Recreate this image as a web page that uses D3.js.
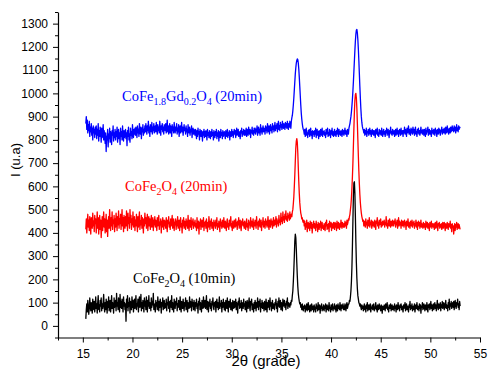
<!DOCTYPE html>
<html>
<head>
<meta charset="utf-8">
<script src="https://cdn.jsdelivr.net/npm/d3@7"></script>
<style>
  html, body { margin: 0; padding: 0; background: #fff; }
  svg { display: block; }
  .tick text { font-family: "Liberation Sans", Arial, sans-serif; font-size: 12px; fill: #000; }
  .lbl { font-family: "Liberation Serif", "Times New Roman", serif; font-size: 14.5px; }
</style>
</head>
<body>
<div id="chart"></div>
<script>
// 2-theta sampling: 15.30 .. 53.00 in 0.05 degree steps (one row of 20 = 1 degree)
const thetaStart = 15.3;
const thetaStep = 0.05;

// CoFe2O4 (10min) - black
const cofe10 = [
  30, 70, 95, 60, 110, 85, 50, 75, 120, 90, 65, 100, 80, 55, 115, 95, 70, 105, 60, 85,
  125, 75, 95, 55, 100, 130, 70, 90, 60, 110, 85, 120, 65, 95, 75, 105, 135, 80, 60, 100,
  70, 115, 90, 55, 105, 80, 125, 65, 95, 110, 60, 85, 130, 75, 100, 90, 55, 120, 80, 95,
  110, 65, 140, 85, 100, 70, 120, 95, 60, 135, 80, 105, 75, 115, 90, 60, 125, 85, 100, 70,
  95, 20, 115, 80, 130, 65, 100, 85, 120, 55, 105, 90, 70, 125, 80, 110, 60, 95, 115, 75,
  100, 130, 70, 95, 85, 115, 60, 105, 125, 80, 90, 135, 65, 100, 75, 110, 95, 60, 120, 85,
  105, 70, 125, 90, 60, 110, 85, 130, 75, 100, 95, 65, 120, 80, 105, 90, 140, 70, 95, 85,
  60, 110, 85, 100, 70, 125, 90, 65, 105, 80, 115, 95, 55, 100, 85, 120, 70, 90, 110, 75,
  95, 80, 115, 65, 100, 90, 125, 75, 105, 60, 95, 110, 80, 130, 70, 100, 85, 60, 115, 90,
  75, 105, 90, 120, 65, 95, 80, 110, 100, 70, 125, 85, 60, 105, 95, 75, 115, 90, 65, 100,
  85, 120, 70, 95, 110, 60, 100, 90, 75, 125, 80, 105, 95, 65, 115, 85, 100, 70, 110, 90,
  65, 100, 85, 115, 75, 95, 55, 105, 90, 120, 70, 100, 85, 60, 110, 95, 75, 125, 80, 95,
  110, 75, 95, 130, 70, 90, 105, 60, 100, 85, 115, 75, 95, 65, 105, 90, 120, 80, 70, 100,
  85, 105, 60, 95, 115, 80, 100, 70, 90, 125, 75, 95, 85, 110, 60, 100, 80, 115, 90, 70,
  100, 65, 110, 85, 75, 120, 90, 60, 105, 80, 95, 115, 70, 100, 85, 65, 110, 90, 75, 105,
  80, 95, 115, 70, 100, 85, 55, 105, 90, 120, 75, 95, 80, 110, 65, 100, 90, 75, 115, 85,
  95, 70, 105, 85, 60, 110, 90, 75, 100, 120, 80, 65, 105, 90, 115, 70, 95, 85, 60, 100,
  75, 110, 90, 65, 100, 80, 120, 95, 70, 105, 85, 115, 60, 95, 80, 110, 75, 100, 90, 65,
  105, 85, 70, 115, 90, 60, 100, 80, 110, 95, 70, 120, 85, 100, 65, 90, 110, 75, 95, 85,
  70, 100, 90, 115, 75, 95, 60, 105, 85, 120, 80, 95, 110, 70, 100, 90, 65, 115, 85, 95,
  110, 80, 95, 70, 105, 90, 120, 75, 100, 85, 95, 80, 100, 90, 110, 105, 130, 150, 190, 240,
  300, 365, 395, 380, 330, 270, 215, 170, 140, 120, 105, 95, 100, 80, 90, 70, 95, 80, 65, 85,
  75, 90, 60, 85, 70, 95, 65, 80, 100, 70, 85, 60, 90, 75, 65, 95, 80, 70, 85, 60,
  90, 70, 80, 60, 95, 75, 85, 65, 100, 70, 80, 90, 55, 85, 75, 95, 65, 80, 70, 90,
  65, 85, 75, 95, 60, 80, 90, 70, 85, 65, 100, 75, 80, 60, 90, 70, 85, 95, 65, 80,
  75, 95, 70, 85, 60, 90, 80, 65, 95, 75, 85, 70, 100, 80, 65, 90, 75, 85, 95, 70,
  85, 70, 95, 80, 65, 90, 100, 75, 85, 95, 95, 110, 105, 125, 150, 190, 250, 340, 450, 560,
  615, 620, 570, 470, 360, 270, 205, 160, 130, 115, 100, 95, 85, 95, 80, 70, 90, 75, 85, 65,
  80, 95, 70, 85, 60, 90, 75, 100, 65, 80, 90, 70, 85, 95, 60, 80, 75, 90, 70, 85,
  95, 65, 80, 75, 100, 70, 85, 60, 90, 80, 70, 95, 75, 85, 65, 90, 80, 55, 85, 75,
  70, 90, 80, 65, 95, 75, 85, 100, 70, 80, 60, 90, 85, 75, 95, 65, 80, 90, 70, 85,
  80, 65, 95, 75, 85, 60, 90, 80, 70, 100, 75, 85, 65, 90, 80, 95, 70, 85, 75, 60,
  90, 75, 85, 100, 65, 80, 95, 70, 85, 75, 60, 90, 80, 105, 70, 85, 75, 95, 65, 80,
  85, 70, 95, 60, 80, 90, 75, 100, 70, 85, 80, 65, 95, 75, 90, 55, 85, 80, 100, 70,
  75, 95, 80, 65, 90, 85, 70, 100, 75, 60, 90, 80, 95, 70, 85, 105, 75, 90, 65, 85,
  95, 70, 85, 100, 75, 90, 65, 85, 110, 80, 70, 95, 85, 75, 100, 65, 90, 80, 105, 75,
  85, 100, 70, 95, 80, 110, 75, 90, 85, 65, 100, 80, 115, 70, 95, 85, 105, 75, 90, 100,
  80, 105, 70, 95, 110, 85, 75, 100, 90, 115, 80, 95, 70, 105, 85
];

// CoFe2O4 (20min) - red
const cofe20 = [
  415, 460, 400, 445, 480, 425, 455, 410, 470, 435, 395, 465, 440, 420, 485, 430, 450, 405, 475, 440,
  460, 400, 445, 490, 420, 465, 395, 440, 475, 415, 455, 380, 430, 470, 410, 450, 490, 425, 460, 400,
  435, 480, 405, 455, 385, 445, 470, 420, 500, 440, 410, 465, 430, 490, 415, 455, 440, 475, 405, 460,
  425, 485, 450, 410, 470, 435, 495, 420, 460, 440, 480, 415, 455, 500, 430, 465, 405, 475, 445, 420,
  470, 430, 495, 450, 410, 485, 440, 465, 420, 500, 445, 475, 415, 460, 435, 490, 425, 455, 470, 410,
  455, 430, 480, 445, 405, 470, 425, 460, 490, 415, 450, 435, 475, 420, 465, 440, 400, 460, 430, 485,
  440, 465, 420, 455, 480, 410, 445, 470, 430, 460, 415, 450, 475, 425, 440, 465, 410, 455, 435, 470,
  425, 455, 440, 410, 465, 430, 450, 475, 415, 445, 435, 460, 400, 450, 425, 465, 440, 415, 455, 430,
  450, 420, 465, 435, 405, 455, 440, 470, 425, 445, 415, 460, 430, 450, 475, 420, 440, 460, 410, 445,
  435, 460, 415, 450, 430, 470, 420, 440, 455, 410, 445, 465, 425, 440, 400, 455, 430, 465, 420, 450,
  440, 415, 460, 430, 450, 420, 475, 435, 410, 455, 440, 425, 465, 415, 450, 435, 460, 420, 445, 430,
  455, 425, 440, 410, 465, 435, 420, 450, 395, 445, 430, 460, 415, 440, 455, 425, 435, 465, 410, 445,
  430, 450, 420, 460, 435, 405, 445, 425, 470, 440, 415, 450, 430, 460, 420, 445, 435, 410, 455, 430,
  445, 420, 455, 430, 465, 415, 440, 425, 450, 435, 405, 460, 430, 445, 420, 455, 440, 425, 465, 430,
  420, 450, 435, 410, 445, 460, 425, 440, 415, 455, 430, 445, 470, 425, 440, 410, 450, 435, 420, 455,
  440, 425, 460, 430, 445, 415, 450, 435, 465, 420, 440, 455, 425, 410, 450, 435, 460, 430, 445, 420,
  450, 430, 415, 445, 460, 425, 440, 410, 455, 435, 445, 420, 465, 430, 450, 425, 440, 460, 415, 445,
  430, 455, 440, 420, 470, 435, 445, 415, 450, 430, 460, 425, 440, 455, 410, 445, 435, 465, 425, 450,
  440, 420, 460, 435, 450, 425, 445, 470, 430, 415, 455, 440, 425, 460, 435, 450, 420, 445, 465, 430,
  455, 435, 445, 470, 425, 460, 440, 450, 430, 475, 445, 455, 435, 485, 450, 465, 440, 490, 455, 470,
  445, 480, 460, 495, 455, 470, 450, 485, 465, 475, 455, 490, 460, 470, 480, 470, 490, 500, 525, 555,
  600, 650, 710, 765, 795, 805, 790, 745, 680, 620, 570, 530, 505, 485, 475, 460, 465, 450, 445, 455,
  430, 450, 415, 440, 425, 455, 405, 435, 445, 420, 440, 410, 450, 430, 420, 445, 400, 435, 425, 450,
  420, 440, 430, 410, 450, 425, 435, 405, 445, 430, 415, 440, 425, 450, 410, 435, 445, 420, 430, 415,
  440, 425, 410, 445, 430, 455, 415, 435, 420, 440, 405, 450, 430, 425, 445, 410, 440, 430, 420, 445,
  430, 415, 445, 425, 440, 410, 450, 430, 420, 445, 435, 415, 440, 425, 455, 430, 420, 445, 435, 425,
  440, 425, 450, 430, 445, 420, 455, 435, 445, 460, 455, 470, 480, 500, 520, 550, 590, 640, 700, 775,
  850, 920, 970, 995, 1000, 980, 935, 870, 800, 730, 665, 610, 565, 530, 505, 485, 470, 460, 450, 455,
  430, 450, 440, 425, 460, 435, 445, 420, 455, 440, 430, 465, 425, 445, 435, 455, 420, 440, 450, 430,
  445, 425, 455, 435, 415, 450, 440, 465, 430, 445, 420, 455, 435, 440, 460, 425, 445, 430, 450, 435,
  440, 455, 425, 445, 435, 470, 430, 440, 420, 455, 445, 430, 460, 435, 425, 450, 440, 430, 455, 445,
  430, 450, 440, 460, 425, 445, 435, 455, 420, 440, 465, 430, 450, 435, 445, 420, 455, 440, 430, 450,
  440, 425, 455, 435, 445, 415, 450, 430, 440, 460, 425, 445, 435, 420, 450, 440, 430, 455, 425, 445,
  435, 450, 420, 440, 430, 455, 425, 445, 415, 440, 450, 430, 445, 420, 435, 455, 425, 440, 430, 420,
  445, 425, 440, 430, 415, 450, 435, 425, 445, 420, 440, 430, 410, 445, 425, 435, 450, 420, 440, 430,
  425, 440, 415, 435, 445, 420, 430, 450, 425, 410, 440, 430, 445, 420, 435, 425, 440, 415, 430, 445,
  420, 435, 445, 425, 410, 440, 430, 420, 445, 435, 415, 440, 425, 430, 450, 420, 435, 405, 440, 425,
  430, 395, 420, 440, 410, 435, 425, 445, 415, 430, 440, 420, 435, 425, 415
];

// CoFe1.8Gd0.2O4 (20min) - blue
const cofeGd20 = [
  870, 900, 845, 885, 830, 865, 840, 880, 815, 855, 835, 870, 820, 850, 800, 860, 830, 845, 810, 855,
  825, 860, 805, 845, 820, 870, 795, 840, 815, 855, 830, 790, 850, 810, 835, 865, 800, 840, 820, 785,
  830, 750, 815, 800, 845, 770, 825, 805, 850, 790, 835, 815, 780, 840, 820, 860, 795, 830, 810, 845,
  800, 835, 815, 855, 790, 825, 845, 805, 830, 780, 850, 815, 835, 800, 860, 820, 795, 840, 810, 830,
  845, 805, 830, 775, 840, 815, 855, 800, 825, 790, 850, 820, 835, 805, 865, 830, 810, 845, 825, 850,
  820, 855, 835, 810, 860, 830, 845, 815, 870, 840, 825, 855, 805, 850, 835, 865, 820, 845, 830, 860,
  835, 870, 845, 825, 860, 840, 880, 830, 855, 815, 865, 845, 835, 875, 825, 855, 840, 870, 830, 850,
  860, 835, 875, 845, 825, 865, 840, 855, 830, 880, 850, 820, 860, 845, 870, 835, 855, 825, 865, 845,
  840, 870, 830, 855, 885, 835, 860, 825, 850, 870, 830, 860, 845, 815, 865, 840, 855, 830, 875, 850,
  830, 855, 840, 870, 825, 850, 835, 865, 815, 845, 860, 830, 850, 875, 835, 855, 820, 845, 865, 840,
  850, 825, 860, 835, 845, 815, 865, 840, 830, 855, 820, 845, 835, 860, 810, 840, 850, 825, 845, 830,
  820, 845, 830, 805, 840, 815, 850, 825, 835, 800, 845, 830, 815, 840, 825, 795, 835, 820, 845, 810,
  835, 815, 840, 825, 800, 845, 820, 830, 810, 840, 825, 805, 835, 815, 845, 820, 830, 800, 840, 825,
  810, 835, 820, 845, 805, 830, 815, 840, 795, 825, 835, 810, 845, 820, 830, 805, 840, 815, 825, 835,
  820, 805, 840, 825, 815, 845, 810, 830, 820, 840, 800, 835, 825, 815, 845, 820, 835, 810, 830, 845,
  825, 840, 810, 835, 850, 820, 830, 845, 815, 835, 825, 805, 840, 830, 850, 815, 835, 825, 845, 820,
  840, 820, 835, 850, 815, 845, 830, 820, 855, 835, 825, 845, 810, 840, 830, 855, 825, 840, 820, 850,
  830, 850, 825, 845, 835, 860, 820, 840, 855, 830, 845, 820, 865, 835, 850, 825, 845, 860, 835, 850,
  845, 825, 860, 840, 855, 830, 870, 845, 835, 860, 825, 850, 865, 840, 855, 830, 870, 845, 860, 835,
  855, 875, 840, 860, 850, 870, 835, 865, 880, 845, 860, 840, 875, 855, 865, 845, 880, 860, 850, 870,
  860, 845, 875, 855, 870, 850, 880, 860, 845, 870, 855, 880, 865, 850, 880, 895, 905, 925, 950, 980,
  1015, 1050, 1085, 1110, 1130, 1142, 1148, 1145, 1130, 1105, 1070, 1030, 990, 950, 915, 890, 870, 855, 845, 840,
  825, 845, 815, 835, 850, 820, 830, 810, 840, 825, 845, 815, 830, 850, 820, 835, 805, 840, 825, 835,
  815, 840, 825, 850, 810, 830, 845, 820, 835, 805, 840, 825, 815, 845, 830, 820, 850, 815, 835, 825,
  840, 820, 830, 810, 845, 825, 835, 850, 815, 830, 820, 845, 830, 810, 840, 825, 850, 820, 835, 815,
  830, 845, 820, 835, 815, 840, 825, 850, 830, 815, 845, 825, 835, 820, 840, 830, 815, 845, 825, 840,
  820, 835, 850, 825, 840, 830, 815, 845, 835, 825, 850, 860, 870, 885, 900, 920, 945, 975, 1010, 1050,
  1095, 1140, 1185, 1225, 1255, 1272, 1275, 1260, 1230, 1190, 1140, 1085, 1030, 980, 935, 900, 875, 858, 848, 842,
  830, 845, 820, 840, 825, 850, 815, 835, 830, 845, 820, 835, 850, 825, 840, 815, 835, 845, 825, 840,
  820, 840, 830, 810, 845, 825, 835, 850, 820, 830, 815, 845, 835, 825, 840, 820, 850, 830, 815, 835,
  845, 825, 835, 815, 840, 830, 850, 820, 835, 845, 825, 810, 840, 830, 855, 825, 835, 820, 845, 830,
  825, 840, 815, 835, 845, 820, 830, 850, 825, 840, 815, 835, 845, 830, 820, 850, 825, 835, 840, 815,
  840, 830, 855, 825, 845, 835, 815, 850, 830, 840, 860, 825, 845, 835, 820, 850, 830, 845, 825, 855,
  830, 845, 820, 840, 855, 825, 835, 815, 845, 830, 850, 825, 840, 820, 835, 855, 830, 840, 825, 845,
  835, 820, 845, 830, 815, 850, 825, 840, 835, 855, 820, 835, 845, 825, 840, 830, 815, 850, 830, 840,
  825, 845, 835, 820, 850, 830, 840, 815, 845, 835, 825, 850, 830, 845, 820, 840, 835, 855, 825, 840,
  845, 830, 850, 835, 825, 855, 840, 830, 860, 835, 845, 825, 850, 840, 830, 855, 835, 845, 860, 840,
  850, 835, 860, 840, 855, 830, 845, 865, 840, 850, 835, 860, 845, 855, 850
];

const xTicks = [15, 20, 25, 30, 35, 40, 45, 50, 55];
const yTicks = [0, 100, 200, 300, 400, 500, 600, 700, 800, 900, 1000, 1100, 1200, 1300];

// label parts: [text, isSubscript]
const seriesList = [
  { values: cofe10, color: '#000000', label: [['CoFe', 0], ['2', 1], ['O', 0], ['4', 1], [' (10min)', 0]], lx: 133, ly: 283 },
  { values: cofe20, color: '#ff0000', label: [['CoFe', 0], ['2', 1], ['O', 0], ['4', 1], [' (20min)', 0]], lx: 125, ly: 191 },
  { values: cofeGd20, color: '#0000ff', label: [['CoFe', 0], ['1.8', 1], ['Gd', 0], ['0.2', 1], ['O', 0], ['4', 1], [' (20min)', 0]], lx: 122, ly: 101 }
];

const width = 488, height = 369;
const margin = { top: 12, right: 8, bottom: 31.5, left: 58 };

const svg = d3.select('#chart').append('svg')
  .attr('width', width)
  .attr('height', height);

const x = d3.scaleLinear().domain([12.5, 55]).range([margin.left, width - margin.right]);
const y = d3.scaleLinear().domain([-50, 1350]).range([height - margin.bottom, margin.top]);

// minor ticks
const xMinor = d3.range(12.5, 55.01, 2.5).filter(v => v % 5 !== 0);
const yMinor = d3.range(-50, 1350.01, 50).filter(v => v % 100 !== 0);

svg.append('g')
  .attr('transform', `translate(0,${height - margin.bottom})`)
  .call(d3.axisBottom(x).tickValues(xMinor).tickSize(3).tickFormat(''))
  .call(g => g.select('.domain').remove());

svg.append('g')
  .attr('transform', `translate(${margin.left},0)`)
  .call(d3.axisLeft(y).tickValues(yMinor).tickSize(3).tickFormat(''))
  .call(g => g.select('.domain').remove());

svg.append('g')
  .attr('transform', `translate(0,${height - margin.bottom})`)
  .call(d3.axisBottom(x).tickValues(xTicks).tickFormat(d3.format('d')).tickSize(5).tickSizeOuter(0).tickPadding(7));

svg.append('g')
  .attr('transform', `translate(${margin.left},0)`)
  .call(d3.axisLeft(y).tickValues(yTicks).tickFormat(d3.format('d')).tickSize(5).tickSizeOuter(0).tickPadding(5));

svg.selectAll('.domain').attr('stroke', '#000').attr('stroke-width', 1.2);
svg.selectAll('.tick line').attr('stroke', '#000');

// series lines
const line = d3.line()
  .x((d, i) => x(thetaStart + thetaStep * i))
  .y(d => y(d));

seriesList.forEach(s => {
  svg.append('path')
    .datum(s.values)
    .attr('fill', 'none')
    .attr('stroke', s.color)
    .attr('stroke-width', 1.3)
    .attr('stroke-linejoin', 'round')
    .attr('d', line);
});

// series labels with subscripts
seriesList.forEach(s => {
  const t = svg.append('text')
    .attr('class', 'lbl')
    .attr('x', s.lx)
    .attr('y', s.ly)
    .attr('fill', s.color);
  let shifted = false;
  s.label.forEach(([txt, sub]) => {
    const ts = t.append('tspan').text(txt);
    if (sub && !shifted) { ts.attr('dy', 4).style('font-size', '10px'); shifted = true; }
    else if (sub) { ts.style('font-size', '10px'); }
    else if (shifted) { ts.attr('dy', -4); shifted = false; }
  });
});

// axis titles
svg.append('text')
  .attr('x', 266)
  .attr('y', 366)
  .attr('text-anchor', 'middle')
  .style('font-family', '"Liberation Sans", Arial, sans-serif')
  .style('font-size', '15px')
  .text('2\u03b8 (grade)');

svg.append('text')
  .attr('transform', 'translate(20,160) rotate(-90)')
  .attr('text-anchor', 'middle')
  .style('font-family', '"Liberation Sans", Arial, sans-serif')
  .style('font-size', '13px')
  .text('I (u.a)');
</script>
</body>
</html>
